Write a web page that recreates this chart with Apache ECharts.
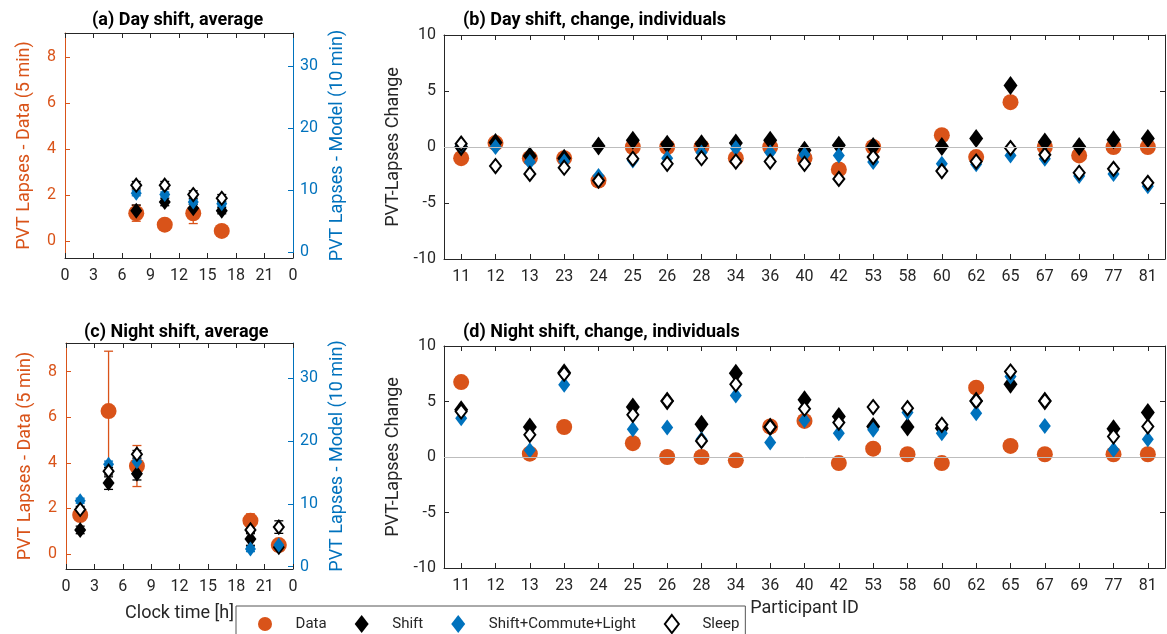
<!DOCTYPE html>
<html>
<head>
<meta charset="utf-8">
<script src="https://cdn.jsdelivr.net/npm/echarts@6/dist/echarts.min.js"></script>
<style>
	html, body { margin: 0; padding: 0; background: #fff; }
	#container { width: 1167px; height: 634px; }
</style>
</head>
<body>
<div id="container"></div>
<script>
// ---- data ----
var dayHours = [7.5, 10.5, 13.5, 16.5];
var dayData = [1.2, 0.7, 1.2, 0.43];
var dayDataErr = [0.35, 0.05, 0.45, 0.05];
var dayShift = [6.7, 8.1, 7.1, 6.7];
var dayShiftErr = [0.9, 0.6, 0.6, 0.5];
var daySCL = [9.5, 9.3, 8.1, 7.8];
var daySCLErr = [0.4, 0.4, 0.4, 0.4];
var daySleep = [10.8, 10.8, 9.3, 8.7];
var daySleepErr = [0.6, 0.6, 0.6, 0.6];

var nightHours = [1.5, 4.5, 7.5, 19.5, 22.5];
var nightData = [1.71, 6.27, 3.86, 1.46, 0.39];
var nightDataErr = [0.2, 2.63, 0.9, 0.3, 0.1];
var nightShift = [5.85, 13.3, 14.8, 4.4, 3.1];
var nightShiftErr = [0.6, 1.0, 1.0, 1.0, 0.6];
var nightSCL = [10.5, 16.3, 16.7, 2.8, 3.45];
var nightSCLErr = [0.4, 0.5, 0.5, 0.4, 0.4];
var nightSleep = [9.1, 15.2, 17.9, 5.85, 6.3];
var nightSleepErr = [0.5, 0.6, 0.6, 0.6, 1.0];

var participants = ["11","12","13","23","24","25","26","28","34","36","40","42","53","58","60","62","65","67","69","77","81"];

var dayChgData  = [-1, 0.35, -1, -1, -3, 0, 0, 0, -1, 0, -1, -2, 0, null, 1.05, -0.9, 4.0, 0, -0.75, 0, 0];
var dayChgShift = [0, 0.4, -0.8, -1, 0.1, 0.6, 0.25, 0.3, 0.35, 0.6, -0.3, 0.15, 0.05, null, 0.05, 0.75, 5.5, 0.45, 0.05, 0.65, 0.75];
var dayChgSCL   = [0.2, 0, -1.35, -1.3, -2.6, -1.2, -1, -0.5, -0.1, -0.5, -0.7, -0.75, -1.35, null, -1.5, -1.55, -0.75, -1.05, -2.6, -2.4, -3.5];
var dayChgSleep = [0.3, -1.7, -2.4, -1.85, -3, -1.05, -1.5, -1, -1.3, -1.3, -1.5, -2.85, -0.9, null, -2.15, -1.3, -0.1, -0.7, -2.3, -1.95, -3.2];

var nightChgData  = [6.75, null, 0.3, 2.7, null, 1.25, 0, 0, -0.3, 2.75, 3.25, -0.55, 0.75, 0.25, -0.55, 6.25, 1.0, 0.25, null, 0.25, 0.25];
var nightChgShift = [4.25, null, 2.7, 7.6, null, 4.5, 5.05, 2.95, 7.55, 2.7, 5.15, 3.65, 2.75, 2.7, 2.6, 5.05, 6.55, 5.05, null, 2.55, 4.0];
var nightChgSCL   = [3.5, null, 0.6, 6.5, null, 2.5, 2.65, 1.6, 5.55, 1.3, 3.3, 2.15, 2.45, 4.0, 2.15, 3.95, 7.25, 2.8, null, 0.65, 1.6];
var nightChgSleep = [4.1, null, 2.0, 7.5, null, 3.8, 5.05, 1.45, 6.55, 2.7, 4.35, 3.1, 4.5, 4.4, 2.9, 5.05, 7.7, 5.05, null, 1.85, 2.75];

// ---- styles ----
var ORANGE = "#D95319", BLUE = "#0072BD", TXT = "#262626";
var FONT = "Roboto";

var zip = function( xs, ys ){
	var out = [];
	for( var i = 0; i < xs.length; ++i ) out.push( [ xs[i], ys[i] ] );
	return out;
};
var zipErr = function( xs, ys, es ){
	var out = [];
	for( var i = 0; i < xs.length; ++i ) out.push( [ xs[i], ys[i] - es[i], ys[i] + es[i] ] );
	return out;
};
var gaps = function( arr ){
	return arr.map(function( v ){ return v === null ? "-" : v; });
};

var errRender = function( color ){
	return function( params, api ){
		var lo = api.coord( [ api.value(0), api.value(1) ] );
		var hi = api.coord( [ api.value(0), api.value(2) ] );
		var w = 4.5;
		var st = { stroke: color, lineWidth: 1.3 };
		return {
			type: "group",
			children: [
				{ type: "line", shape: { x1: lo[0], y1: lo[1], x2: hi[0], y2: hi[1] }, style: st },
				{ type: "line", shape: { x1: lo[0] - w, y1: lo[1], x2: lo[0] + w, y2: lo[1] }, style: st },
				{ type: "line", shape: { x1: hi[0] - w, y1: hi[1], x2: hi[0] + w, y2: hi[1] }, style: st }
			]
		};
	};
};

var errSeries = function( xi, yi, data, color ){
	return { type: "custom", name: "err", xAxisIndex: xi, yAxisIndex: yi, data: data, renderItem: errRender( color ), silent: true, legendHoverLink: false };
};

var markStyles = {
	"Data": { symbol: "circle", itemStyle: { color: ORANGE, opacity: 1 } },
	"Shift": { symbol: "diamond", itemStyle: { color: "#000", opacity: 1 } },
	"Shift+Commute+Light": { symbol: "diamond", itemStyle: { color: BLUE, opacity: 1 } },
	"Sleep": { symbol: "diamond", itemStyle: { color: "#fff", borderColor: "#000", borderWidth: 2, opacity: 1 } }
};

var scat = function( name, xi, yi, data, size ){
	return {
		type: "scatter", name: name, xAxisIndex: xi, yAxisIndex: yi, data: data,
		symbol: markStyles[name].symbol, symbolSize: size, itemStyle: markStyles[name].itemStyle
	};
};

// axes builders
var tickIn = function( color ){ return { show: true, inside: true, length: 5, lineStyle: { color: color } }; };
var lbl = function( color ){ return { color: color, fontFamily: FONT, fontSize: 16 }; };
var nameStyle = function( color ){ return { color: color, fontFamily: FONT, fontSize: 18 }; };

var clockAxis = function( gi, pos, name ){
	return {
		type: "value", gridIndex: gi, position: pos, min: 0, max: 24, interval: 3,
		axisLine: { show: true, onZero: false, lineStyle: { color: "#262626" } },
		axisTick: tickIn( "#262626" ),
		axisLabel: pos === "bottom" ? Object.assign( lbl( TXT ), { margin: 10, formatter: function( v ){ return v === 24 ? "0" : String(v); } } ) : { show: false },
		splitLine: { show: false },
		name: name || "", nameLocation: "middle", nameGap: 35,
		nameTextStyle: nameStyle( TXT )
	};
};

var leftLapse = function( gi, mn, mx ){
	return {
		type: "value", gridIndex: gi, position: "left", min: mn, max: mx,
		axisLine: { show: true, onZero: false, lineStyle: { color: ORANGE } },
		axisTick: Object.assign( tickIn( ORANGE ), { customValues: [0, 2, 4, 6, 8] } ),
		axisLabel: Object.assign( lbl( ORANGE ), { margin: 9, customValues: [0, 2, 4, 6, 8] } ),
		splitLine: { show: false },
		name: "PVT Lapses - Data (5 min)", nameLocation: "middle", nameGap: 32, nameRotate: 90,
		nameTextStyle: nameStyle( ORANGE )
	};
};

var rightLapse = function( gi, mn, mx ){
	return {
		type: "value", gridIndex: gi, position: "right", min: mn, max: mx,
		axisLine: { show: true, onZero: false, lineStyle: { color: BLUE } },
		axisTick: Object.assign( tickIn( BLUE ), { customValues: [0, 10, 20, 30] } ),
		axisLabel: Object.assign( lbl( BLUE ), { margin: 7, customValues: [0, 10, 20, 30] } ),
		splitLine: { show: false },
		name: "PVT Lapses - Model (10 min)", nameLocation: "middle", nameGap: 35, nameRotate: 90,
		nameTextStyle: nameStyle( BLUE )
	};
};

var partAxis = function( gi, pos, name ){
	return {
		type: "category", gridIndex: gi, position: pos, data: participants, boundaryGap: true,
		axisLine: { show: true, onZero: false, lineStyle: { color: "#262626" } },
		axisTick: Object.assign( tickIn( "#262626" ), { alignWithLabel: true } ),
		axisLabel: pos === "bottom" ? Object.assign( lbl( TXT ), { margin: 10, interval: 0 } ) : { show: false },
		splitLine: { show: false },
		name: name || "", nameLocation: "middle", nameGap: 31,
		nameTextStyle: nameStyle( TXT )
	};
};

var chgAxis = function( gi, pos ){
	return {
		type: "value", gridIndex: gi, position: pos, min: -10, max: 10, interval: 5,
		axisLine: { show: true, onZero: false, lineStyle: { color: "#262626" } },
		axisTick: tickIn( "#262626" ),
		axisLabel: pos === "left" ? Object.assign( lbl( TXT ), { margin: 8 } ) : { show: false },
		splitLine: { show: false },
		name: pos === "left" ? "PVT-Lapses Change" : "", nameLocation: "middle", nameGap: 38, nameRotate: 90,
		nameTextStyle: nameStyle( TXT )
	};
};

var titleStyle = { color: "#000", fontFamily: FONT, fontSize: 18, fontWeight: "bold" };

var zeroLine = {
	silent: true, symbol: "none", label: { show: false },
	lineStyle: { color: "#bdbdbd", type: "solid", width: 1 },
	data: [ { yAxis: 0 } ], animation: false
};

var series = [
	// (a) day shift, average
	errSeries( 0, 0, zipErr( dayHours, dayData, dayDataErr ), ORANGE ),
	scat( "Data", 0, 0, zip( dayHours, dayData ), 16 ),
	errSeries( 0, 1, zipErr( dayHours, dayShift, dayShiftErr ), "#000" ),
	scat( "Shift", 0, 1, zip( dayHours, dayShift ), [12, 16] ),
	errSeries( 0, 1, zipErr( dayHours, daySCL, daySCLErr ), BLUE ),
	scat( "Shift+Commute+Light", 0, 1, zip( dayHours, daySCL ), [11, 15] ),
	errSeries( 0, 1, zipErr( dayHours, daySleep, daySleepErr ), "#000" ),
	scat( "Sleep", 0, 1, zip( dayHours, daySleep ), [10, 13] ),

	// (b) day shift, change
	Object.assign( scat( "Data", 2, 2, gaps( dayChgData ), 16 ), { markLine: zeroLine } ),
	scat( "Shift", 2, 2, gaps( dayChgShift ), [14, 19] ),
	scat( "Shift+Commute+Light", 2, 2, gaps( dayChgSCL ), [12, 16] ),
	scat( "Sleep", 2, 2, gaps( dayChgSleep ), [11, 14] ),

	// (c) night shift, average
	errSeries( 4, 4, zipErr( nightHours, nightData, nightDataErr ), ORANGE ),
	scat( "Data", 4, 4, zip( nightHours, nightData ), 16 ),
	errSeries( 4, 5, zipErr( nightHours, nightShift, nightShiftErr ), "#000" ),
	scat( "Shift", 4, 5, zip( nightHours, nightShift ), [12, 16] ),
	errSeries( 4, 5, zipErr( nightHours, nightSCL, nightSCLErr ), BLUE ),
	scat( "Shift+Commute+Light", 4, 5, zip( nightHours, nightSCL ), [11, 15] ),
	errSeries( 4, 5, zipErr( nightHours, nightSleep, nightSleepErr ), "#000" ),
	scat( "Sleep", 4, 5, zip( nightHours, nightSleep ), [10, 13] ),

	// (d) night shift, change
	Object.assign( scat( "Data", 6, 6, gaps( nightChgData ), 16 ), { markLine: zeroLine } ),
	scat( "Shift", 6, 6, gaps( nightChgShift ), [14, 19] ),
	scat( "Shift+Commute+Light", 6, 6, gaps( nightChgSCL ), [12, 16] ),
	scat( "Sleep", 6, 6, gaps( nightChgSleep ), [11, 14] )
];

var option = {
	animation: false,
	backgroundColor: "#fff",
	textStyle: { fontFamily: FONT },
	title: [
		{ text: "(a) Day shift, average", left: 87, top: 6, textStyle: titleStyle },
		{ text: "(b) Day shift, change, individuals", left: 458, top: 6, textStyle: titleStyle },
		{ text: "(c) Night shift, average", left: 79, top: 318, textStyle: titleStyle },
		{ text: "(d) Night shift, change, individuals", left: 458, top: 318, textStyle: titleStyle }
	],
	grid: [
		{ left: 65, top: 33, width: 228, height: 225 },
		{ left: 444, top: 35, width: 721, height: 224 },
		{ left: 66, top: 343, width: 227, height: 226 },
		{ left: 444, top: 346, width: 721, height: 222 }
	],
	xAxis: [
		clockAxis( 0, "bottom" ), clockAxis( 0, "top" ),
		partAxis( 1, "bottom" ), partAxis( 1, "top" ),
		clockAxis( 2, "bottom", "Clock time [h]" ), clockAxis( 2, "top" ),
		partAxis( 3, "bottom", "Participant ID" ), partAxis( 3, "top" )
	],
	yAxis: [
		leftLapse( 0, -0.75, 9.05 ), rightLapse( 0, -0.92, 35.3 ),
		chgAxis( 1, "left" ), chgAxis( 1, "right" ),
		leftLapse( 2, -0.66, 9.26 ), rightLapse( 2, -0.37, 35.6 ),
		chgAxis( 3, "left" ), chgAxis( 3, "right" )
	],
	legend: {
		data: [ "Data", "Shift", "Shift+Commute+Light", "Sleep" ],
		orient: "horizontal",
		left: 236, top: 606,
		itemWidth: 14, itemHeight: 18, itemGap: 28,
		padding: [ 8, 6, 4, 22 ],
		borderColor: "#555", borderWidth: 1, borderRadius: 0,
		backgroundColor: "#fff",
		formatter: function( n ){ return "     " + n; },
		textStyle: { color: TXT, fontFamily: FONT, fontSize: 15 },
		selectedMode: false
	},
	series: series
};

var myChart = echarts.init( document.getElementById( "container" ), null, { renderer: "canvas" } );
myChart.setOption( option );
</script>
</body>
</html>
